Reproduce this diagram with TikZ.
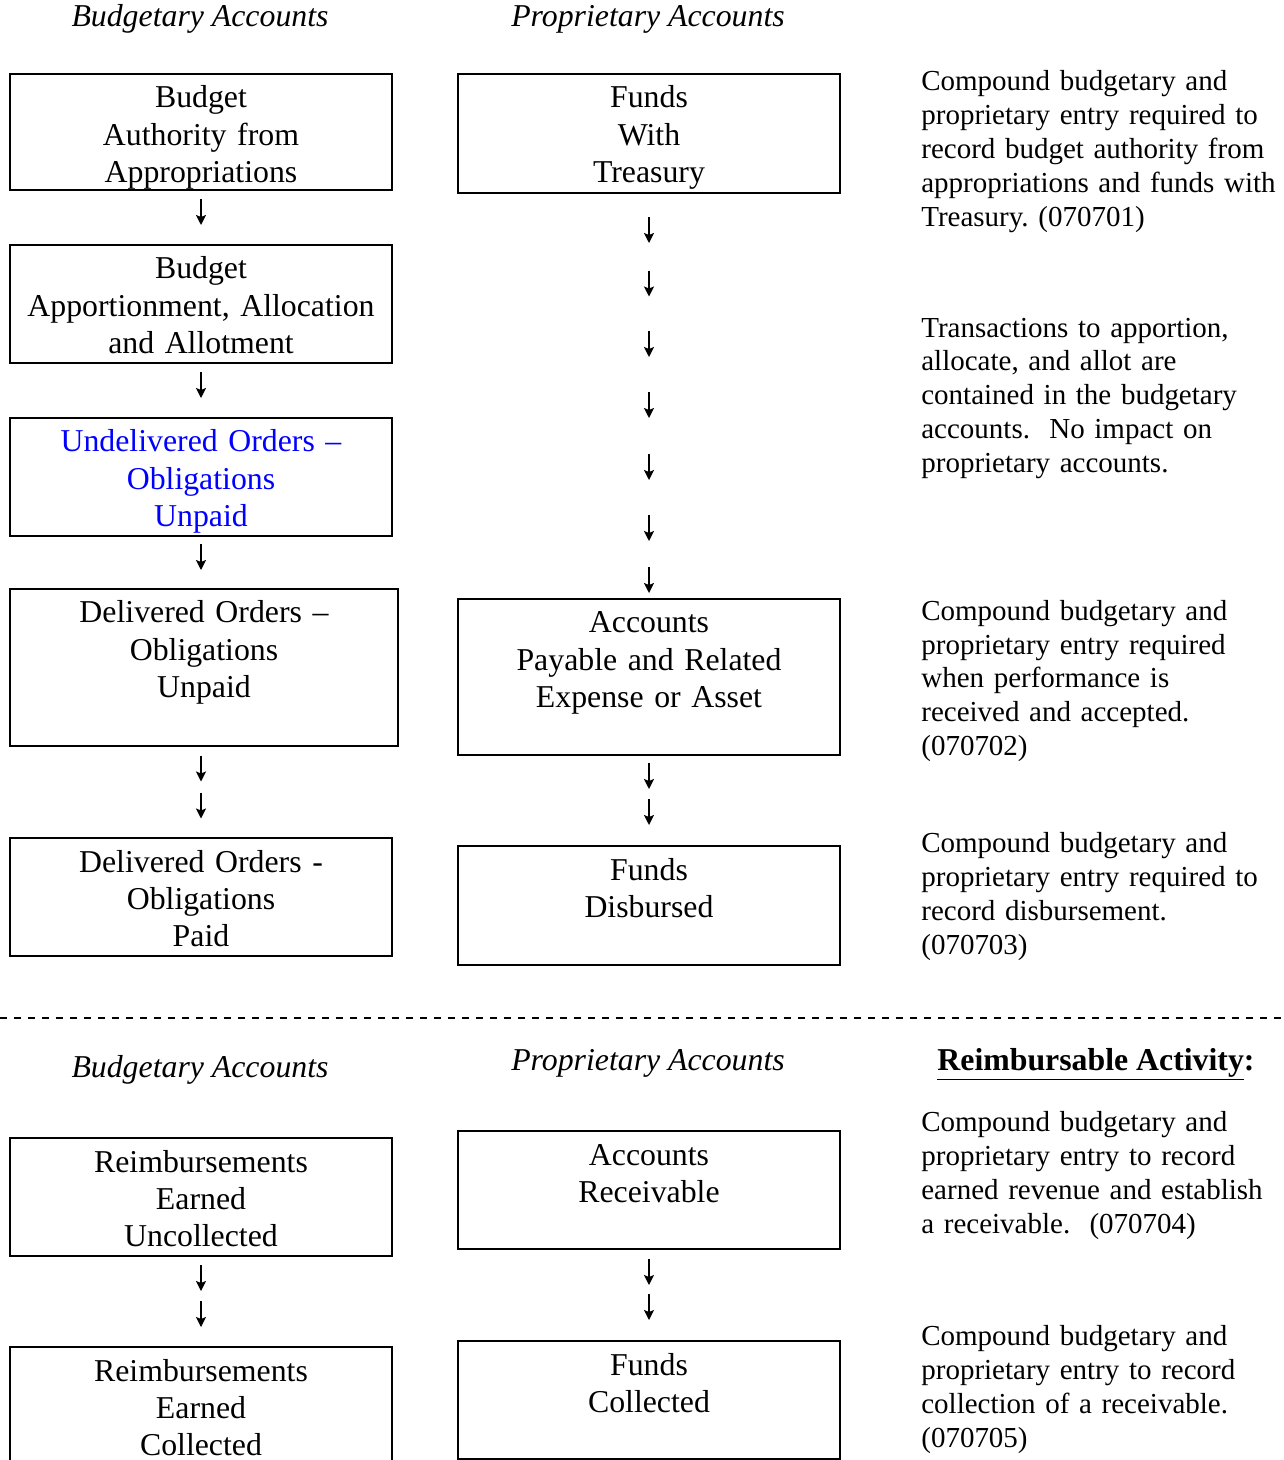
\documentclass[tikz,border=0pt]{standalone}
\usepackage{fontspec}
\setmainfont{Liberation Serif}
\usetikzlibrary{arrows.meta}
\frenchspacing

\newcommand\acctfont{\fontsize{18.1}{21.3}\selectfont}
\newcommand\remfont{\fontsize{16.5}{19.35}\selectfont}

\begin{document}
\begin{tikzpicture}[x=0.02cm, y=-0.02cm,
    acct/.style={draw, line width=0.04cm, text width=7.64cm, align=center, inner sep=0pt, anchor=north, text height=0.68cm, text depth=1.68cm, font=\acctfont},
    remark/.style={text width=7.3cm, align=left, inner sep=0pt, anchor=base west, font=\remfont},
    hdr/.style={anchor=base, inner sep=0pt, font=\acctfont\itshape},
    arrow/.style={-{Stealth[length=0.2cm, width=0.2cm, inset=0.04cm]}, line width=0.03cm},
    cut/.style={line width=0.045cm, dash pattern=on 0.14cm off 0.14cm}
]
\useasboundingbox (0,0) rectangle (1284,1460);

% Headers
\node[hdr] (hbud) at (200,27) {Budgetary Accounts};
\node[hdr] (hprop) at (648,27) {Proprietary Accounts};

% Budgetary column
\node[acct, text depth=1.64cm] (budauth) at (201,73) {Budget\\Authority from\\Appropriations};
\node[acct] (budapp) at (201,244) {Budget\\Apportionment, Allocation\\and Allotment};
\node[acct, text=blue] (undel) at (201,417) {Undelivered Orders --\\Obligations\\Unpaid};
\node[acct, text width=7.76cm, text depth=2.46cm] (delunp) at (204,588) {Delivered Orders --\\Obligations\\Unpaid};
\node[acct] (delpaid) at (201,837) {Delivered Orders -\\Obligations\\Paid};

% Proprietary column
\node[acct, text depth=1.70cm] (fwt) at (649,73) {Funds\\With\\Treasury};
\node[acct, text depth=2.44cm] (apexp) at (649,598) {Accounts\\Payable and Related\\Expense or Asset};
\node[acct, text depth=1.70cm] (fdisb) at (649,845) {Funds\\Disbursed};

% Remarks
\node[remark] (n1) at (921,91) {Compound budgetary and\\proprietary entry required to\\record budget authority from\\appropriations and funds with\\Treasury. (070701)};
\node[remark] (n2) at (921,337) {Transactions to apportion,\\allocate, and allot are\\contained in the budgetary\\accounts.\ \ No impact on\\proprietary accounts.};
\node[remark] (n3) at (921,620) {Compound budgetary and\\proprietary entry required\\when performance is\\received and accepted.\\(070702)};
\node[remark] (n4) at (921,852) {Compound budgetary and\\proprietary entry required to\\record disbursement.\\(070703)};

% Arrows
\foreach \y [count=\i] in {212,385,557,768.5,805.5,1278,1314} {
    \coordinate (la\i) at (201,\y-13);
    \coordinate (lb\i) at (201,\y+13);
    \draw[arrow] (la\i) -- (lb\i);
}
\foreach \y [count=\i] in {230,283.5,344,405,467,528,580,776,812,1272,1307} {
    \coordinate (ra\i) at (649,\y-13);
    \coordinate (rb\i) at (649,\y+13);
    \draw[arrow] (ra\i) -- (rb\i);
}

% Separator
\coordinate (cutl) at (0,1018);
\coordinate (cutr) at (1284,1018);
\draw[cut] (cutl) -- (cutr);

% Reimbursable activity
\node[hdr] (hbud2) at (200,1077) {Budgetary Accounts};
\node[hdr] (hprop2) at (648,1070) {Proprietary Accounts};
\node[hdr, font=\acctfont\bfseries] (hreimb) at (1096,1070) {\underline{Reimbursable Activity}:};

\node[acct] (reimbunc) at (201,1137) {Reimbursements\\Earned\\Uncollected};
\node[acct, text depth=1.92cm] (reimbcol) at (201,1346) {Reimbursements\\Earned\\Collected};
\node[acct] (acrec) at (649,1130) {Accounts\\Receivable};
\node[acct] (fcoll) at (649,1340) {Funds\\Collected};

\node[remark] (n5) at (921,1131) {Compound budgetary and\\proprietary entry to record\\earned revenue and establish\\a receivable.\ \ (070704)};
\node[remark] (n6) at (921,1345) {Compound budgetary and\\proprietary entry to record\\collection of a receivable.\\(070705)};

\end{tikzpicture}
\end{document}
